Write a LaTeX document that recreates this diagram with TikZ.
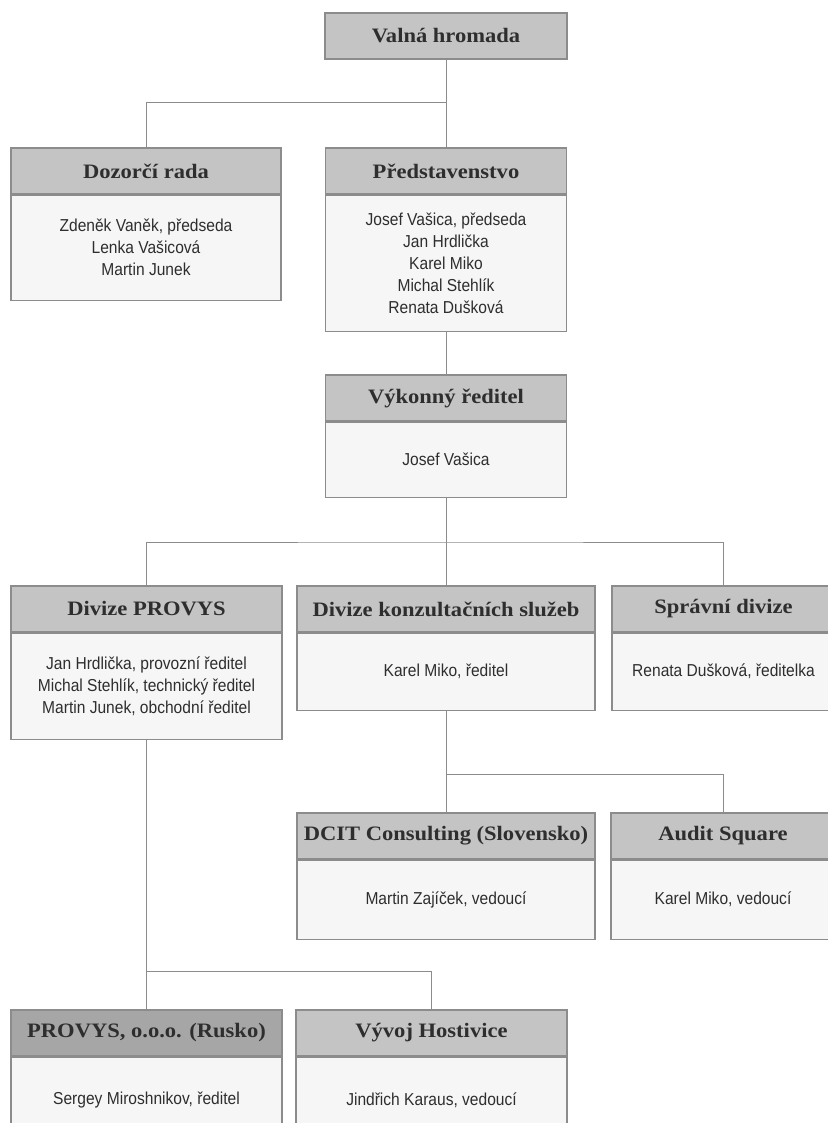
\documentclass[tikz,border=0pt]{standalone}
\usepackage{fontspec}
\usepackage{xcolor}
\newfontfamily\headfont[FakeStretch=1.1]{Liberation Serif}
\newfontfamily\bodyfont[FakeStretch=0.9]{Liberation Sans}
\definecolor{headgray}{HTML}{C4C4C4}
\definecolor{darkhead}{HTML}{A6A6A6}
\definecolor{bodygray}{HTML}{F6F6F6}
\definecolor{linegray}{HTML}{8C8C8C}
\definecolor{textgray}{HTML}{2E2E2E}
\tikzset{
  head/.style={draw=linegray,line width=1.2pt,fill=headgray,minimum height=46pt,inner sep=0pt,
    text=textgray,font=\headfont\bfseries\fontsize{20.5}{24}\selectfont},
  body/.style={draw=linegray,line width=1.2pt,fill=bodygray,anchor=north,inner sep=0pt,align=center,
    text=textgray,font=\bodyfont\fontsize{17.3}{22}\selectfont},
  link/.style={draw=linegray,line width=1pt}
}
\begin{document}
\begin{tikzpicture}[x=1pt,y=-1pt]
\useasboundingbox[fill=white] (0,0) rectangle (827,1123);
\node[head,minimum width=242pt] (valna) at (446,36) {Valná hromada};
\node[head,minimum width=270pt] (dozorci) at (146,171) {Dozorčí rada};
\node[body,minimum width=270pt,minimum height=105pt] (dozorciB) at (dozorci.south) {Zdeněk Vaněk, předseda\\Lenka Vašicová\\Martin Junek};
\node[head,minimum width=241pt] (predst) at (446,171) {Představenstvo};
\node[body,minimum width=241pt,minimum height=136pt] (predstB) at (predst.south) {Josef Vašica, předseda\\Jan Hrdlička\\Karel Miko\\Michal Stehlík\\Renata Dušková};
\node[head,minimum width=241pt] (vykon) at (446,398) {Výkonný ředitel};
\node[body,minimum width=241pt,minimum height=75pt] (vykonB) at (vykon.south) {Josef Vašica};
\node[head,minimum width=271pt] (provys) at (146.5,609) {Divize PROVYS};
\node[body,minimum width=271pt,minimum height=106pt] (provysB) at (provys.south) {Jan Hrdlička, provozní ředitel\\Michal Stehlík, technický ředitel\\Martin Junek, obchodní ředitel};
\node[head,minimum width=298pt] (konzult) at (446,609) {Divize konzultačních služeb};
\node[body,minimum width=298pt,minimum height=77pt] (konzultB) at (konzult.south) {Karel Miko, ředitel};
\node[head,minimum width=223pt] (sprava) at (723.5,609) {Správní divize};
\node[body,minimum width=223pt,minimum height=77pt] (spravaB) at (sprava.south) {Renata Dušková, ředitelka};
\node[head,minimum width=298pt] (dcit) at (446,836) {DCIT Consulting (Slovensko)};
\node[body,minimum width=298pt,minimum height=79pt] (dcitB) at (dcit.south) {Martin Zajíček, vedoucí};
\node[head,minimum width=224pt] (audit) at (723,836) {Audit Square};
\node[body,minimum width=224pt,minimum height=79pt] (auditB) at (audit.south) {Karel Miko, vedoucí};
\node[head,fill=darkhead,minimum width=271pt] (rusko) at (146.5,1033) {PROVYS, o.o.o. (Rusko)};
\node[body,minimum width=271pt,minimum height=86pt] (ruskoB) at (rusko.south) {Sergey Miroshnikov, ředitel};
\node[head,minimum width=271pt] (hostivice) at (431.5,1033) {Vývoj Hostivice};
\node[body,minimum width=271pt,minimum height=86pt] (hostiviceB) at (hostivice.south) {Jindřich Karaus, vedoucí};
\coordinate (bus1) at (446,103);
\coordinate (bus2) at (446,542);
\coordinate (bus3) at (446,774);
\coordinate (bus4) at (146.5,971);
\draw[link] (valna.south) -- (predst.north);
\draw[link] (bus1) -| (dozorci.north);
\draw[link] (predstB.south) -- (vykon.north);
\draw[link] (vykonB.south) -- (konzult.north);
\draw[link] (provys.north) |- (bus2) -| (sprava.north);
\draw[link] (konzultB.south) -- (dcit.north);
\draw[link] (bus3) -| (audit.north);
\draw[link] (provysB.south) -- (rusko.north);
\draw[link] (bus4) -| (hostivice.north);
\end{tikzpicture}
\end{document}
